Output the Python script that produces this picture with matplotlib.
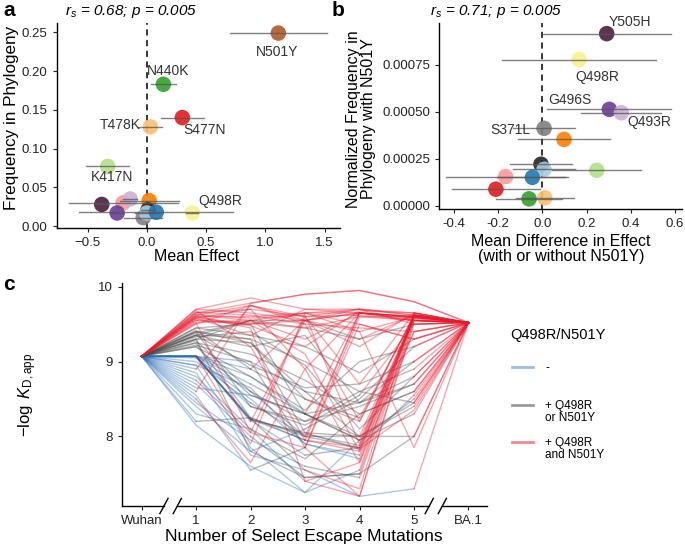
import matplotlib
matplotlib.use("Agg")
import matplotlib.pyplot as plt
import matplotlib.transforms as mtransforms
from matplotlib.lines import Line2D

plt.rcParams['font.family'] = ['Liberation Sans', 'DejaVu Sans']
plt.rcParams['mathtext.fontset'] = 'custom'
plt.rcParams['mathtext.rm'] = 'Liberation Sans'
plt.rcParams['mathtext.it'] = 'Liberation Sans:italic'

# ---------------- data ----------------
mut_colors = {"G339D": "#a6cee3", "E484A": "#1f78b4", "K417N": "#b2df8a", "N440K": "#33a02c",
              "G446S": "#fb9a99", "S477N": "#e31a1c", "T478K": "#fdbf6f", "S373P": "#ff7f00",
              "Q493R": "#cab2d6", "G496S": "#6a3d9a", "Q498R": "#f7f28f", "N501Y": "#b15928",
              "S371L": "#808080", "S375F": "#262626", "Y505H": "#4b1e3c"}

# panel a
muts_a = ["Y505H", "G446S", "Q493R", "S373P", "G496S", "S375F", "S371L", "G339D",
          "E484A", "Q498R", "K417N", "T478K", "S477N", "N440K", "N501Y"]
mean_effect = [-0.38, -0.20, -0.14, 0.02, -0.25, 0.01, -0.03, 0.00,
               0.08, 0.385, -0.33, 0.03, 0.30, 0.14, 1.11]
freq_phylo = [0.028, 0.030, 0.035, 0.033, 0.017, 0.021, 0.011, 0.017,
              0.018, 0.017, 0.077, 0.128, 0.140, 0.183, 0.249]
err_a = [0.05, 0.46, 0.06, 0.25, 0.05, 0.06, 0.16, 0.10,
         0.65, 0.05, 0.18, 0.10, 0.18, 0.105, 0.41]
labels_a = {"N501Y": (1.10, 0.224), "N440K": (0.183, 0.200), "S477N": (0.484, 0.124),
            "T478K": (-0.226, 0.131), "K417N": (-0.29, 0.064), "Q498R": (0.62, 0.033)}

# panel b
muts_b = ["Y505H", "Q498R", "G496S", "Q493R", "S371L", "S373P", "S375F", "G339D",
          "K417N", "G446S", "E484A", "S477N", "N440K", "T478K"]
mean_diff = [0.291, 0.166, 0.303, 0.357, 0.008, 0.098, -0.006, 0.008,
             0.246, -0.166, -0.045, -0.210, -0.060, 0.011]
norm_freq = [0.000915, 0.000777, 0.000512, 0.000494, 0.000411, 0.000352, 0.000220, 0.000193,
             0.000188, 0.000154, 0.000150, 0.000087, 0.0000355, 0.000041]
err_b = [0.29, 0.35, 0.28, 0.18, 0.14, 0.21, 0.14, 0.14,
         0.20, 0.27, 0.16, 0.20, 0.15, 0.13]
labels_b = {"Y505H": (0.397, 0.000977), "Q498R": (0.249, 0.000682), "G496S": (0.125, 0.000561),
            "Q493R": (0.484, 0.000446), "S371L": (-0.146, 0.000402)}

# panel c: -log KD along mutational paths Wuhan -> 1..5 escape mutations -> BA.1
wuhan_kd = 9.07
ba1_kd = 9.52
c_ticks = ["Wuhan", "1", "2", "3", "4", "5", "BA.1"]
# state of each step: 0 = neither Q498R nor N501Y, 1 = one of them, 2 = both
path_kd = [
    [9.07, 8.23, 8.03, 7.88, 9.62], [9.07, 8.23, 7.95, 7.85, 9.60], [9.07, 8.22, 8.05, 8.00, 8.45],
    [9.07, 8.80, 8.30, 7.95, 9.55], [9.05, 8.50, 7.90, 7.70, 9.58], [8.95, 7.85, 7.25, 7.55, 9.65],
    [8.85, 7.75, 7.55, 7.20, 7.30], [8.70, 8.00, 7.45, 7.50, 8.00], [8.55, 7.55, 7.85, 7.20, 9.50],
    [8.40, 7.80, 8.10, 8.50, 9.20], [8.30, 8.10, 7.40, 7.65, 9.62], [8.20, 8.25, 7.95, 7.80, 9.60],
    [8.15, 7.60, 7.25, 7.95, 8.50], [9.07, 9.00, 8.60, 8.45, 8.80], [9.07, 8.70, 8.30, 8.00, 9.60],
    [9.00, 8.45, 8.00, 9.65, 9.60], [8.90, 9.75, 9.55, 9.65, 9.60], [8.60, 9.78, 9.90, 9.95, 9.80],
    [8.75, 8.05, 9.60, 9.70, 9.65], [9.07, 7.90, 9.65, 9.65, 9.60], [9.07, 8.20, 9.55, 9.40, 9.60],
    [8.50, 7.65, 8.90, 9.65, 9.55], [9.07, 8.22, 7.75, 7.85, 9.40], [9.07, 8.24, 7.55, 7.30, 9.62],
    [9.07, 8.60, 8.20, 8.40, 8.70], [8.80, 8.10, 7.70, 8.30, 8.60], [8.65, 8.55, 8.30, 7.95, 8.30],
    [8.45, 7.95, 7.60, 7.45, 9.55], [9.07, 8.90, 8.50, 8.20, 9.62], [8.95, 8.65, 7.90, 7.75, 9.60],
    [9.07, 8.40, 8.15, 8.55, 9.50],
    [9.35, 9.55, 9.55, 9.30, 9.50], [9.40, 9.30, 9.00, 8.60, 8.90], [9.45, 9.50, 8.30, 8.45, 8.70],
    [9.30, 9.25, 8.60, 8.00, 8.40], [9.25, 8.25, 8.00, 7.85, 8.55], [9.20, 8.80, 8.35, 9.00, 9.20],
    [9.38, 9.55, 9.30, 9.65, 9.60], [9.35, 9.20, 9.35, 8.45, 9.00], [9.30, 7.80, 7.45, 7.50, 9.62],
    [9.42, 8.90, 9.55, 9.70, 9.62], [9.28, 8.60, 8.00, 8.00, 8.00], [9.22, 9.00, 7.85, 9.60, 9.55],
    [9.33, 9.40, 8.95, 8.10, 8.80], [9.40, 8.40, 8.20, 8.60, 8.45], [9.36, 9.30, 8.05, 7.83, 8.35],
    [9.45, 9.35, 9.20, 8.85, 9.30], [9.25, 9.10, 8.75, 8.30, 8.60], [9.35, 8.95, 8.65, 8.70, 9.00],
    [9.30, 9.55, 9.45, 9.30, 9.62], [9.40, 9.25, 8.50, 8.25, 9.60], [9.20, 8.55, 8.30, 9.65, 9.58],
    [9.70, 9.85, 9.70, 9.65, 9.60], [9.65, 9.78, 9.90, 9.95, 9.80], [9.60, 9.60, 9.65, 9.70, 9.62],
    [9.55, 9.50, 9.55, 9.65, 9.58], [9.50, 9.75, 9.60, 8.70, 9.65], [9.68, 9.20, 7.95, 9.65, 9.55],
    [9.62, 9.55, 9.10, 7.80, 9.60], [9.58, 9.70, 8.90, 7.65, 9.40], [9.52, 8.05, 7.85, 9.50, 9.30],
    [9.66, 9.62, 9.50, 8.20, 9.62], [9.60, 9.45, 7.40, 7.20, 9.55], [9.55, 9.50, 9.65, 9.40, 7.85],
    [9.70, 9.65, 9.55, 9.20, 9.65], [9.58, 9.35, 9.70, 9.70, 9.50], [9.63, 9.58, 9.62, 7.90, 9.63],
    [9.65, 9.70, 9.60, 9.62, 9.55], [9.57, 9.52, 9.45, 9.60, 9.60], [9.62, 9.75, 9.50, 9.45, 9.40],
    [9.52, 9.55, 9.65, 9.50, 9.30], [9.60, 9.48, 9.20, 9.68, 9.65],
]
path_state = [
    "00112", "00022", "00111", "00012", "00002", "00002",
    "00000", "00111", "00122", "00011", "00022", "01122",
    "00000", "00011", "00112", "00122", "02222", "02222",
    "02222", "02222", "01222", "02222", "00012", "00122",
    "00111", "00111", "00011", "00012", "00122", "00002",
    "00112",
    "11111", "11111", "11111", "11111", "11111", "11111",
    "11222", "11111", "11112", "11222", "11111", "11122",
    "11111", "11111", "11112", "11111", "11111", "11111",
    "11112", "11112", "11122",
    "22222", "22222", "22222", "22222", "22222", "22222",
    "22222", "22222", "22222", "22222", "22222", "22222",
    "22222", "22222", "22222", "22222", "22222", "22222",
    "22222", "22222",
]
state_colors = ["#2a6db5", "#4a4a4a", "#e8192c"]
legend_colors = ["#9fbde2", "#9a9a9a", "#f48792"]
legend_labels = ["-", "+ Q498R\nor N501Y", "+ Q498R\nand N501Y"]

W, H = 685, 554
fig = plt.figure(figsize=(W / 100, H / 100), dpi=100)


def ftext(x, y, s, **kw):
    fig.text(x / W, 1 - y / H, s, **kw)


def axes_px(l, t, r, b):
    return fig.add_axes([l / W, 1 - b / H, (r - l) / W, (b - t) / H])


def style(ax):
    for s in ["top", "right"]:
        ax.spines[s].set_visible(False)
    for s in ["left", "bottom"]:
        ax.spines[s].set_linewidth(1.0)
    ax.tick_params(labelsize=9.5, length=3, width=0.8, colors="#222222")


# ---------------- panel a ----------------
ax = axes_px(56.7, 23, 340, 227.7)
style(ax)
for m, x, y, e in zip(muts_a, mean_effect, freq_phylo, err_a):
    ax.scatter(x, y, s=125, color=mut_colors[m], alpha=0.9, edgecolors="none", zorder=2)
    ax.plot([x - e, x + e], [y, y], color="#555555", lw=1, alpha=0.75, zorder=3)
ax.axvline(0, color="black", ls=(0, (4, 3)), lw=1.1, zorder=1)
for m, (x, y) in labels_a.items():
    ax.text(x, y, m, ha="center", va="center", fontsize=10, color="#333333", zorder=4)
ax.set_xlim(-0.76, 1.63)
ax.set_ylim(-0.002, 0.262)
ax.set_xticks([-0.5, 0.0, 0.5, 1.0, 1.5])
ax.set_yticks([0, 0.05, 0.10, 0.15, 0.20, 0.25])
ax.set_yticklabels(["0.00", "0.05", "0.10", "0.15", "0.20", "0.25"])
ftext(12, 118, "Frequency in Phylogeny", rotation=90, ha="center", va="center", fontsize=12.3)
ftext(197, 257, "Mean Effect", ha="center", va="center", fontsize=11.5)
ftext(131, 12, r"$\mathit{r_s}$ = 0.68; p = 0.005", style="italic", ha="center", va="center", fontsize=11)

# ---------------- panel b ----------------
ax = axes_px(439, 23.3, 681.7, 209.3)
style(ax)
for m, x, y, e in zip(muts_b, mean_diff, norm_freq, err_b):
    ax.scatter(x, y, s=125, color=mut_colors[m], alpha=0.9, edgecolors="none", zorder=2)
    ax.plot([x - e, x + e], [y, y], color="#555555", lw=1, alpha=0.75, zorder=3)
ax.axvline(0, color="black", ls=(0, (4, 3)), lw=1.1, zorder=1)
for m, (x, y) in labels_b.items():
    ax.text(x, y, m, ha="center", va="center", fontsize=10, color="#333333", zorder=4, clip_on=False)
ax.set_xlim(-0.467, 0.63)
ax.set_ylim(-0.00002, 0.00097)
ax.set_xticks([-0.4, -0.2, 0.0, 0.2, 0.4, 0.6])
ax.set_xticklabels(["-0.4", "-0.2", "0.0", "0.2", "0.4", "0.6"])
ax.set_yticks([0, 0.00025, 0.0005, 0.00075])
ax.set_yticklabels(["0.00000", "0.00025", "0.00050", "0.00075"])
ftext(361, 119, "Normalized Frequency in\nPhylogeny with N501Y", rotation=90, ha="center",
      va="center", fontsize=11.5, linespacing=1.0)
ftext(561, 249, "Mean Difference in Effect\n(with or without N501Y)", ha="center", va="center",
      fontsize=11.5, linespacing=1.0)
ftext(496, 12, r"$\mathit{r_s}$ = 0.71; p = 0.005", style="italic", ha="center", va="center", fontsize=11)

# ---------------- panel c ----------------
ax = axes_px(122, 283, 487, 506)
style(ax)
runs = {0: [], 1: [], 2: []}
for kd, st in zip(path_kd, path_state):
    ys = [wuhan_kd] + kd + [ba1_kd]
    states = [0] + [int(c) for c in st] + [2]
    seg_col = states[1:]
    start = 0
    for j in range(1, len(seg_col) + 1):
        if j == len(seg_col) or seg_col[j] != seg_col[start]:
            runs[seg_col[start]].append((list(range(start, j + 1)), ys[start:j + 1]))
            start = j
for k in [0, 1, 2]:
    for xs, ys in runs[k]:
        ax.plot(xs, ys, color=state_colors[k], lw=1.0, alpha=0.38, solid_joinstyle="round")
ax.set_xlim(-0.36, 6.34)
ax.set_ylim(7.07, 10.05)
ax.set_yticks([8, 9, 10])
ax.set_xticks(range(len(c_ticks)))
ax.set_xticklabels(c_ticks, fontsize=9.5)
ax.spines["bottom"].set_visible(False)
blend = mtransforms.blended_transform_factory(ax.transData, ax.transAxes)
for x0, x1 in [(-0.36, 0.41), (0.655, 5.28), (5.52, 6.34)]:
    ax.plot([x0, x1], [0, 0], color="black", lw=1.0, transform=blend, clip_on=False)
for xb in [0.41, 0.655, 5.28, 5.52]:
    ax.plot([xb - 0.075, xb + 0.075], [-0.034, 0.034], color="black", lw=1.0, transform=blend, clip_on=False)
ftext(28, 395, r"$-\log\ K_{\mathrm{D,app}}$", rotation=90, ha="center", va="center", fontsize=12)
ftext(304, 537, "Number of Select Escape Mutations", ha="center", va="center", fontsize=12.5)

# legend
ftext(510, 335, "Q498R/N501Y", ha="left", va="center", fontsize=10.5)
for (ly, c, lab) in zip([367, 405, 442], legend_colors, legend_labels):
    fig.add_artist(Line2D([511.7 / W, 533 / W], [1 - ly / H, 1 - ly / H], color=c, lw=2))
    ftext(545, ly - 5, lab, ha="left", va="top", fontsize=8.5, linespacing=1.05)

# panel letters
ftext(9, 11, "a", ha="center", va="center", fontsize=15, fontweight="bold")
ftext(338, 11, "b", ha="center", va="center", fontsize=15, fontweight="bold")
ftext(9, 284, "c", ha="center", va="center", fontsize=15, fontweight="bold")

fig.savefig("out.png", dpi=100)
